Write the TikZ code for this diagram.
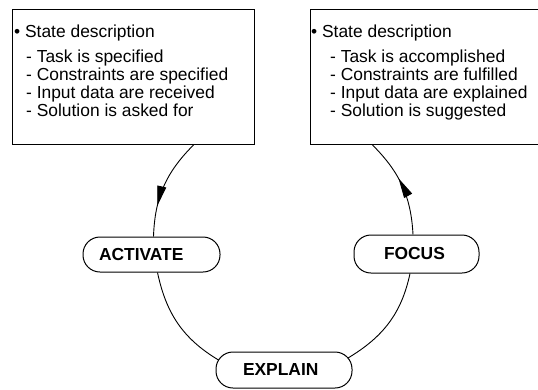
\documentclass[tikz,border=0pt]{standalone}
\usepackage{fontspec}
\setmainfont{Liberation Sans}
\usetikzlibrary{arrows.meta,decorations.markings}

\tikzset{
  sbox/.style={draw, line width=1pt, anchor=north west, inner sep=0pt},
  stext/.style={anchor=base west, align=left, inner sep=0pt,
    font=\fontsize{17.4}{18}\selectfont},
  stage/.style={draw, line width=1pt, rounded corners=17pt, align=left,
    inner ysep=0pt, minimum height=36pt,
    font=\fontsize{17.4}{18}\selectfont\bfseries},
  cyc/.style={line width=0.9pt},
  midarrow/.style={postaction={decorate, decoration={markings,
    mark=at position #1 with {\arrow{Triangle[length=20pt,width=9pt]}}}}}
}

\begin{document}
\begin{tikzpicture}[x=1pt, y=1pt]

  \useasboundingbox (0,0) rectangle (538,-389);

  % state boxes
  \node[sbox, minimum width=242pt, minimum height=135pt] (lbox) at (12,-9) {};
  \node[sbox, minimum width=240pt, minimum height=135pt] (rbox) at (310,-9) {};

  % base anchor sits on the last line
  \node[stext] (ltext) at (14,-116) {• State description\\[7pt]
    \hspace*{12pt}- Task is specified\\
    \hspace*{12pt}- Constraints are specified\\
    \hspace*{12pt}- Input data are received\\
    \hspace*{12pt}- Solution is asked for};
  \node[stext] (rtext) at (311,-116) {• State description\\[7pt]
    \hspace*{19pt}- Task is accomplished\\
    \hspace*{19pt}- Constraints are fulfilled\\
    \hspace*{19pt}- Input data are explained\\
    \hspace*{19pt}- Solution is suggested};

  % stages of the cycle
  \node[stage, text width=105pt, inner xsep=16pt, minimum height=35pt] (act) at (151.5,-254.5) {ACTIVATE};
  \node[stage, text width=65pt, inner xsep=30pt, minimum height=38pt] (foc) at (416.5,-254) {FOCUS};
  \node[stage, text width=82pt, inner xsep=27pt] (expl) at (284,-370) {EXPLAIN};

  \draw[cyc, midarrow=0.7] ([xshift=60pt]lbox.south) to[out=225, in=88] ([xshift=2pt]act.north); %% lbox->act
  \draw[cyc] ([xshift=6pt]act.south) to[out=282, in=149] ([shift={(3pt,10pt)}]expl.west); %% act->expl
  \draw[cyc] ([shift={(-4.5pt,12pt)}]expl.east) to[out=31, in=258] ([xshift=-6.5pt]foc.south); %% expl->foc
  \draw[cyc, midarrow=0.58] ([xshift=-3.5pt]foc.north) to[out=93, in=315] ([xshift=-58pt]rbox.south); %% foc->rbox

\end{tikzpicture}
\end{document}
